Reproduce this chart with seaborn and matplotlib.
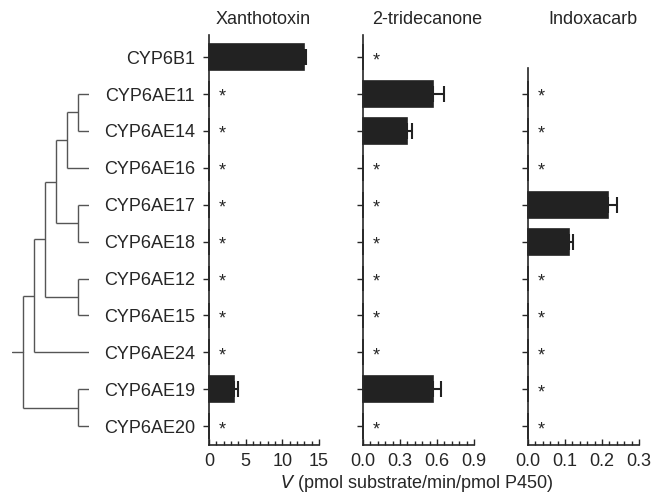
"""plot.py

Substrate turnover of CYP6B1 / CYP6AE enzymes, with a cladogram on the left.

"""

import numpy as np
import pandas as pd
import matplotlib
matplotlib.use("Agg")
import matplotlib.pyplot as plt
from matplotlib.ticker import AutoMinorLocator
import seaborn as sns

GENES = ["CYP6B1", "CYP6AE11", "CYP6AE14", "CYP6AE16", "CYP6AE17",
         "CYP6AE18", "CYP6AE12", "CYP6AE15", "CYP6AE24", "CYP6AE19",
         "CYP6AE20"]

SUBSTRATES = ["Xanthotoxin", "2-tridecanone", "Indoxacarb"]

# mean V and error (upper side only); nan = not tested
XANTHO_V = [12.9, 0, 0, 0, 0, 0, 0, 0, 0, 3.45, 0]
XANTHO_ERR = [0.3, 0, 0, 0, 0, 0, 0, 0, 0, 0.45, 0]
TRIDEC_V = [0, 0.57, 0.355, 0, 0, 0, 0, 0, 0, 0.565, 0]
TRIDEC_ERR = [0, 0.085, 0.04, 0, 0, 0, 0, 0, 0, 0.068, 0]
INDOX_V = [np.nan, 0, 0, 0, 0.217, 0.111, 0, 0, 0, 0, 0]
INDOX_ERR = [np.nan, 0, 0, 0, 0.024, 0.010, 0, 0, 0, 0, 0]

XMAX = [15, 0.9, 0.3]
XTICKS = [[0, 5, 10, 15], [0.0, 0.3, 0.6, 0.9], [0.0, 0.1, 0.2, 0.3]]
XTICKLABELS = [["0", "5", "10", "15"], ["0.0", "0.3", "0.6", "0.9"],
               ["0.0", "0.1", "0.2", "0.3"]]

# cladogram merges: (child a, child b, level); leaves are row indices
MERGES = [(1, 2, 1), ("n0", 3, 2), (4, 5, 1), ("n1", "n2", 3),
          (6, 7, 1), ("n3", "n4", 4), ("n5", 8, 5), (9, 10, 1),
          ("n6", "n7", 6)]
ROOT_LEVEL = 7

FONT = ["Liberation Sans", "DejaVu Sans"]
BAR_COLOR = "#222222"
YLIM = (10.51, -0.6)


def draw_tree(ax):
    """Draw the cladogram as right-angled lines."""
    pos = {}
    for i, (a, b, lvl) in enumerate(MERGES):
        ya = pos[a][0] if isinstance(a, str) else a
        xa = pos[a][1] if isinstance(a, str) else 0
        yb = pos[b][0] if isinstance(b, str) else b
        xb = pos[b][1] if isinstance(b, str) else 0
        kw = dict(color="#555555", lw=1.0, solid_capstyle="butt")
        ax.plot([xa, lvl], [ya, ya], **kw)
        ax.plot([xb, lvl], [yb, yb], **kw)
        ax.plot([lvl, lvl], [ya, yb], **kw)
        pos["n%d" % i] = ((ya + yb) / 2.0, lvl)
    ry, rx = pos["n%d" % (len(MERGES) - 1)]
    ax.plot([rx, ROOT_LEVEL], [ry, ry], color="#555555", lw=1.0)
    ax.set_xlim(ROOT_LEVEL, 0)
    ax.set_ylim(*YLIM)
    ax.axis("off")


def run():
    sns.set_style("ticks")
    plt.rcParams["font.family"] = FONT
    plt.rcParams["font.size"] = 13

    fig = plt.figure(figsize=(6.54, 5.04), dpi=100)
    W, H = 654.0, 504.0
    bottom = 1 - 445 / H
    height = (445 - 35) / H

    tree_ax = fig.add_axes([12 / W, bottom, (89 - 12) / W, height])
    draw_tree(tree_ax)

    values = [XANTHO_V, TRIDEC_V, INDOX_V]
    errors = [XANTHO_ERR, TRIDEC_ERR, INDOX_ERR]
    lefts = [209, 363, 528]
    title_x = [263, 427, 593]

    for k in range(3):
        ax = fig.add_axes([lefts[k] / W, bottom, (110 if k == 0 else 111) / W,
                           height])
        df = pd.DataFrame({"gene": GENES, "v": values[k], "err": errors[k]})
        sns.barplot(data=df, x="v", y="gene", order=GENES, orient="h",
                    color=BAR_COLOR, edgecolor=BAR_COLOR, linewidth=1.2,
                    width=0.7, errorbar=None, saturation=1, ax=ax)
        for patch in ax.patches:
            patch.set_clip_on(False)

        ypos = np.arange(len(GENES))
        has_err = (df["err"] > 0).values
        ax.errorbar(df["v"][has_err], ypos[has_err],
                    xerr=[np.zeros(has_err.sum()), df["err"][has_err]],
                    fmt="none", ecolor=BAR_COLOR, elinewidth=1.5,
                    capsize=5.5, capthick=1.5)

        for i, v in enumerate(df["v"]):
            if v == 0:
                ax.annotate("*", xy=(0, i), xytext=(7, -1),
                            textcoords="offset points", ha="left",
                            va="center_baseline", fontsize=13)

        ax.set_xlim(0, XMAX[k])
        ax.set_ylim(*YLIM)
        ax.set_xticks(XTICKS[k])
        ax.set_xticklabels(XTICKLABELS[k])
        ax.xaxis.set_minor_locator(AutoMinorLocator(5))
        ax.tick_params(axis="x", which="major", direction="in", length=4.5,
                       width=1.0, pad=6, labelsize=13)
        ax.tick_params(axis="x", which="minor", direction="in", length=3,
                       width=1.0)
        rows = ypos[~df["v"].isna().values]
        ax.set_yticks(rows)
        if k == 0:
            ax.set_yticklabels(GENES, fontsize=13)
        else:
            ax.set_yticklabels([])
        ax.tick_params(axis="y", direction="out", length=4, width=1.0, pad=6)
        ax.set_xlabel("")
        ax.set_ylabel("")
        sns.despine(ax=ax)
        for side in ("left", "bottom"):
            ax.spines[side].set_linewidth(1.2)
        if k == 2:
            ax.spines["left"].set_bounds(YLIM[0], 0.3)

        fig.text(title_x[k] / W, 1 - 20 / H, SUBSTRATES[k], ha="center",
                 va="center", fontsize=13)

    fig.text(417 / W, 1 - 483 / H,
             r"$\it{V}$ (pmol substrate/min/pmol P450)", ha="center",
             va="center", fontsize=13)

    fig.savefig("out.png", dpi=100)


if __name__ == "__main__":
    run()
